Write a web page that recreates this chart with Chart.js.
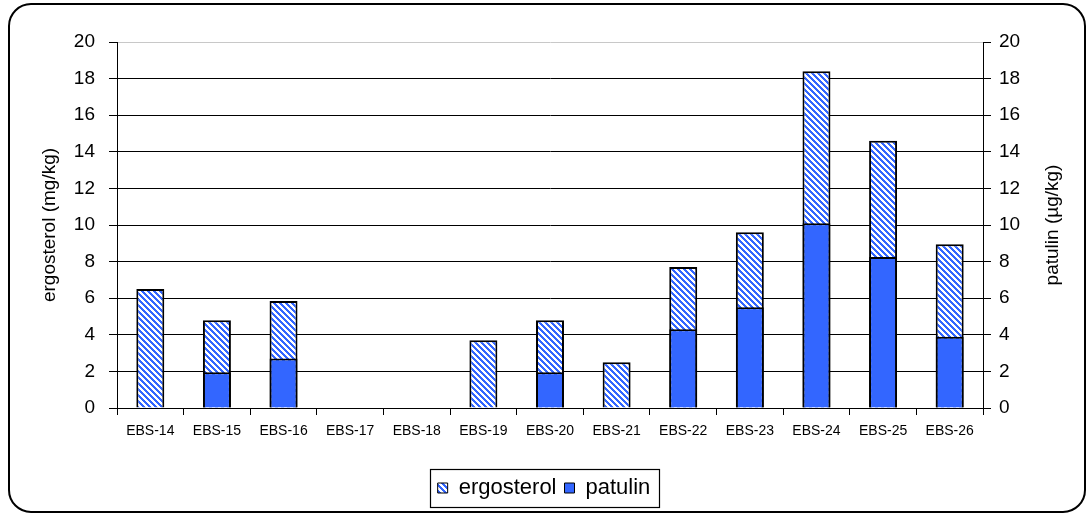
<!DOCTYPE html>
<html>
<head>
<meta charset="utf-8">
<script src="https://cdn.jsdelivr.net/npm/chart.js@4/dist/chart.umd.min.js"></script>
<style>
  html, body { margin: 0; padding: 0; background: #fff; }
  canvas { display: block; }
</style>
</head>
<body>
<canvas id="c" width="1088" height="515"></canvas>
<script>
// Samples and measured concentrations
const categories = ['EBS-14', 'EBS-15', 'EBS-16', 'EBS-17', 'EBS-18', 'EBS-19', 'EBS-20',
                    'EBS-21', 'EBS-22', 'EBS-23', 'EBS-24', 'EBS-25', 'EBS-26'];
// ergosterol, mg/kg (left axis)
const ergosterol = [6.5, 4.8, 5.85, null, null, 3.7, 4.8, 2.5, 7.7, 9.6, 18.4, 14.6, 8.95];
// patulin, µg/kg (right axis)
const patulin = [null, 1.95, 2.7, null, null, null, 1.95, null, 4.3, 5.5, 10.1, 8.25, 3.9];
const axisTicks = [0, 2, 4, 6, 8, 10, 12, 14, 16, 18, 20];
const leftTitle = 'ergosterol (mg/kg)';
const rightTitle = 'patulin (µg/kg)';

const BLUE = '#3366FF';
const FONT = '"Liberation Sans", Arial, sans-serif';

// diagonal blue/white stripe fill for the ergosterol bars
function stripePattern() {
  const n = 6;
  const c = document.createElement('canvas');
  c.width = n; c.height = n;
  const g = c.getContext('2d');
  g.fillStyle = '#fff';
  g.fillRect(0, 0, n, n);
  g.fillStyle = BLUE;
  for (let y = 0; y < n; y++) {
    for (let x = 0; x < n; x++) {
      if (((x - y) % n + n) % n < 3) g.fillRect(x, y, 1, 1);
    }
  }
  return g.createPattern(c, 'repeat');
}
const hatch = stripePattern();

// rounded outer frame, the box around the legend and the right axis title
const framePlugin = {
  id: 'frame',
  afterDraw(chart) {
    const ctx = chart.ctx;
    ctx.save();
    ctx.strokeStyle = '#000';
    ctx.lineWidth = 2;
    ctx.beginPath();
    ctx.roundRect(9, 4, 1076, 508, 22);
    ctx.stroke();

    const lg = chart.legend;
    if (lg && lg.legendHitBoxes && lg.legendHitBoxes.length) {
      const hb = lg.legendHitBoxes;
      const x0 = Math.min(...hb.map(h => h.left)) - 8;
      const x1 = Math.max(...hb.map(h => h.left + h.width)) + 8;
      const y0 = Math.min(...hb.map(h => h.top)) - 8;
      const y1 = Math.max(...hb.map(h => h.top + h.height)) + 8;
      ctx.lineWidth = 1.2;
      ctx.strokeRect(Math.round(x0) + 0.5, Math.round(y0) + 0.5, Math.round(x1 - x0), Math.round(y1 - y0));
    }

    const area = chart.chartArea;
    ctx.translate(1053, (area.top + area.bottom) / 2);
    ctx.rotate(-Math.PI / 2);
    ctx.fillStyle = '#000';
    ctx.font = '19px ' + FONT;
    ctx.textAlign = 'center';
    ctx.textBaseline = 'middle';
    ctx.fillText(rightTitle, 0, 0);
    ctx.restore();
  }
};

const valueTicks = (scale) => {
  scale.ticks = axisTicks.map(v => ({ value: v }));
};

new Chart(document.getElementById('c'), {
  type: 'bar',
  data: {
    labels: categories,
    datasets: [
      {
        label: 'ergosterol',
        data: ergosterol,
        yAxisID: 'y',
        backgroundColor: hatch,
        borderColor: '#000',
        borderWidth: 2,
        grouped: false,
        order: 1,
        barPercentage: 0.42,
        categoryPercentage: 1
      },
      {
        label: 'patulin',
        data: patulin,
        yAxisID: 'y2',
        backgroundColor: BLUE,
        borderColor: '#000',
        borderWidth: 2,
        grouped: false,
        order: 0,
        barPercentage: 0.42,
        categoryPercentage: 1
      }
    ]
  },
  options: {
    responsive: false,
    animation: false,
    events: [],
    layout: { padding: { left: 0, right: 0, top: 42, bottom: 6 } },
    plugins: {
      tooltip: { enabled: false },
      legend: {
        position: 'bottom',
        labels: {
          color: '#000',
          font: { family: FONT, size: 22 },
          boxWidth: 10,
          boxHeight: 10,
          padding: 8,
          generateLabels(chart) {
            return chart.data.datasets.map((ds, i) => ({
              text: ds.label,
              fillStyle: ds.backgroundColor,
              strokeStyle: '#000',
              lineWidth: 1,
              hidden: false,
              datasetIndex: i
            }));
          }
        }
      }
    },
    scales: {
      x: {
        offset: true,
        grid: {
          offset: true,
          drawOnChartArea: false,
          color: '#000',
          tickLength: 7,
          lineWidth: 1
        },
        border: { color: '#000', width: 1 },
        ticks: {
          color: '#000',
          font: { family: FONT, size: 14 },
          padding: 8,
          maxRotation: 0,
          autoSkip: false
        },
        afterFit(scale) { scale.height = 61; }
      },
      y: {
        position: 'left',
        min: 0,
        max: 20,
        afterBuildTicks: valueTicks,
        grid: {
          color: (c) => (c.tick && c.tick.value === 20 ? '#c8c8c8' : '#000'),
          lineWidth: 1,
          tickLength: 8,
          tickColor: '#000'
        },
        border: { color: '#000', width: 1 },
        ticks: {
          color: '#000',
          font: { family: FONT, size: 19 },
          padding: 14
        },
        title: {
          display: true,
          text: leftTitle,
          color: '#000',
          font: { family: FONT, size: 19 },
          padding: { top: 38, bottom: 0 }
        },
        afterFit(scale) { scale.width = 117; }
      },
      y2: {
        position: 'right',
        min: 0,
        max: 20,
        afterBuildTicks: valueTicks,
        grid: {
          drawOnChartArea: false,
          color: '#000',
          tickLength: 8,
          lineWidth: 1
        },
        border: { color: '#000', width: 1 },
        ticks: {
          color: '#000',
          font: { family: FONT, size: 19 },
          padding: 8
        },
        afterFit(scale) { scale.width = 105; }
      }
    }
  },
  plugins: [framePlugin]
});
</script>
</body>
</html>
